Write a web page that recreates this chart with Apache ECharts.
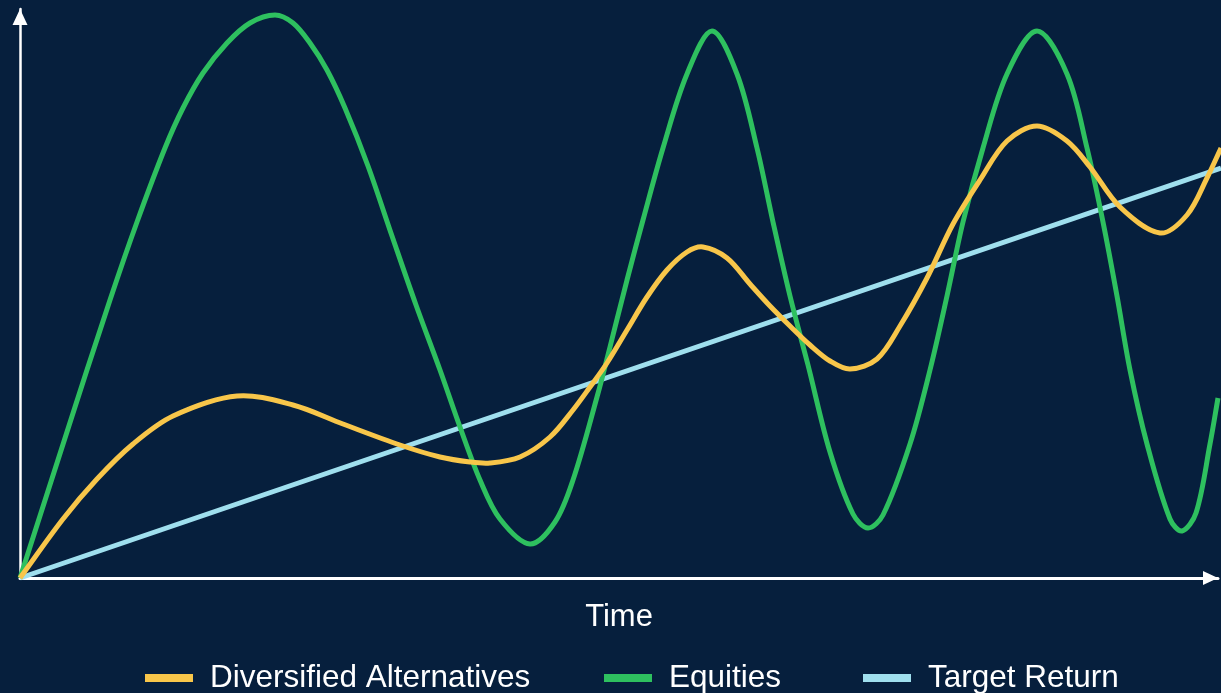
<!DOCTYPE html>
<html>
<head>
<meta charset="utf-8">
<script src="https://cdn.jsdelivr.net/npm/echarts@6/dist/echarts.min.js"></script>
<style>
  html, body { margin: 0; padding: 0; background: #061f3d; }
  #chart { width: 1221px; height: 693px; }
</style>
</head>
<body>
<div id="chart"></div>
<script>
// Illustrative return paths over time (x = time units, y = cumulative return units)
const seriesNames = ['Diversified Alternatives', 'Equities', 'Target Return'];

const altsX = [0, 43, 77, 113, 153, 217, 273, 323, 380, 420, 450, 470, 500, 530, 553, 570, 587, 607, 627, 647, 667, 683, 707, 730, 750, 770, 790, 810, 830, 857, 880, 907, 933, 960, 987, 1017, 1047, 1070, 1100, 1140, 1167, 1187, 1201];
const altsY = [0, 59, 99, 134, 162, 182, 173, 154, 133, 121, 116, 115, 121, 141, 168, 191, 215, 248, 281, 308, 326, 331, 320, 294, 272, 252, 233, 217, 209, 219, 252, 300, 354, 398, 437, 452, 437, 411, 371, 345, 363, 400, 430];

const equityX = [0, 55, 90, 117, 145, 163, 183, 207, 230, 255, 273, 290, 307, 325, 348, 372, 396, 420, 440, 460, 480, 510, 535, 553, 577, 590, 607, 623, 643, 667, 692, 717, 737, 753, 770, 788, 810, 833, 848, 863, 890, 910, 927, 943, 963, 987, 1017, 1047, 1067, 1083, 1097, 1110, 1127, 1150, 1162, 1176, 1190, 1198];
const equityY = [0, 171, 278, 356, 430, 470, 505, 535, 555, 563, 555, 535, 508, 470, 412, 342, 273, 208, 151, 98, 59, 34, 56, 98, 181, 231, 298, 358, 430, 504, 547, 504, 430, 356, 282, 213, 126, 64, 50, 63, 134, 208, 282, 356, 430, 504, 547, 504, 430, 356, 282, 208, 134, 59, 47, 65, 134, 180];

const targetX = [0, 1201];
const targetY = [0, 410];

const colors = ['#f8c64a', '#2ec05f', '#9fdfee'];

const zip = (xs, ys) => xs.map((x, i) => [x, ys[i]]);

const textFont = 'Liberation Sans, Arial, sans-serif';
const axisColor = '#ffffff';

// Smooth curve through the projected points: cubic Hermite segments with
// chord-length scaled tangents, written out as an SVG path.
function smoothPathData(pts) {
  const n = pts.length;
  const d = [];
  for (let i = 0; i < n - 1; i++) {
    d[i] = Math.hypot(pts[i + 1][0] - pts[i][0], pts[i + 1][1] - pts[i][1]) || 1e-6;
  }
  const m = pts.map((p, i) => {
    if (i === 0) return [(pts[1][0] - p[0]) / d[0], (pts[1][1] - p[1]) / d[0]];
    if (i === n - 1) return [(p[0] - pts[i - 1][0]) / d[i - 1], (p[1] - pts[i - 1][1]) / d[i - 1]];
    const s = d[i - 1] + d[i];
    return [(pts[i + 1][0] - pts[i - 1][0]) / s, (pts[i + 1][1] - pts[i - 1][1]) / s];
  });
  let path = 'M' + pts[0][0] + ' ' + pts[0][1];
  for (let i = 0; i < n - 1; i++) {
    const k = d[i] / 3;
    const c1 = [pts[i][0] + m[i][0] * k, pts[i][1] + m[i][1] * k];
    const c2 = [pts[i + 1][0] - m[i + 1][0] * k, pts[i + 1][1] - m[i + 1][1] * k];
    path += ' C' + c1[0] + ' ' + c1[1] + ' ' + c2[0] + ' ' + c2[1] + ' ' + pts[i + 1][0] + ' ' + pts[i + 1][1];
  }
  return path;
}

function curveSeries(name, xs, ys, color, z) {
  const values = zip(xs, ys);
  return {
    name: name,
    type: 'custom',
    coordinateSystem: 'cartesian2d',
    data: values,
    encode: { x: 0, y: 1 },
    clip: false,
    z: z,
    itemStyle: { color: color },
    renderItem: function (params, api) {
      if (params.dataIndex !== 0) return null;
      const pts = values.map(v => api.coord(v));
      return {
        type: 'path',
        shape: { pathData: smoothPathData(pts) },
        style: { fill: null, stroke: color, lineWidth: 5, lineJoin: 'round', lineCap: 'butt' }
      };
    }
  };
}

function legendAt(left, idx) {
  return {
    show: true,
    left: left,
    top: 662,
    padding: 0,
    data: [{ name: seriesNames[idx], itemStyle: { color: colors[idx] } }],
    icon: 'rect',
    itemWidth: 48,
    itemHeight: 8,
    selectedMode: false,
    textStyle: {
      color: '#ffffff',
      fontSize: 31.5,
      fontFamily: textFont,
      padding: [0, 0, 0, 12]
    }
  };
}

const chart = echarts.init(document.getElementById('chart'), null, { renderer: 'canvas' });

chart.setOption({
  backgroundColor: '#061f3d',
  animation: false,
  grid: { left: 20, right: 3, top: 9, bottom: 115, containLabel: false },
  xAxis: {
    type: 'value',
    min: 0,
    max: 1198,
    name: 'Time',
    nameLocation: 'middle',
    nameGap: 24,
    nameTextStyle: { color: '#ffffff', fontSize: 31, fontFamily: textFont },
    axisLine: {
      show: true,
      onZero: false,
      symbol: ['none', 'triangle'],
      symbolSize: [14, 15],
      symbolOffset: [0, -7.5],
      lineStyle: { color: axisColor, width: 3 }
    },
    axisTick: { show: false },
    axisLabel: { show: false },
    splitLine: { show: false }
  },
  yAxis: {
    type: 'value',
    min: 0,
    max: 569,
    axisLine: {
      show: true,
      onZero: false,
      symbol: ['none', 'triangle'],
      symbolSize: [15, 16],
      symbolOffset: [0, -8],
      lineStyle: { color: axisColor, width: 2.5 }
    },
    axisTick: { show: false },
    axisLabel: { show: false },
    splitLine: { show: false }
  },
  legend: [legendAt(145, 0), legendAt(604, 1), legendAt(863, 2)],
  series: [
    {
      name: seriesNames[2],
      type: 'line',
      data: zip(targetX, targetY),
      showSymbol: false,
      clip: false,
      z: 2,
      lineStyle: { color: colors[2], width: 5 },
      itemStyle: { color: colors[2] }
    },
    curveSeries(seriesNames[1], equityX, equityY, colors[1], 3),
    curveSeries(seriesNames[0], altsX, altsY, colors[0], 4)
  ]
});
</script>
</body>
</html>
